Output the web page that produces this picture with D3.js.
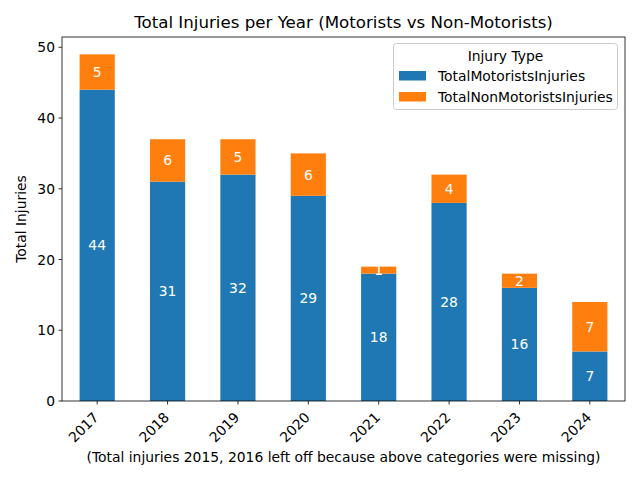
<!DOCTYPE html>
<html><head><meta charset="utf-8">
<script src="https://cdn.jsdelivr.net/npm/d3@7"></script>
<style>body{margin:0;background:#fff;} text{font-family:"DejaVu Sans",sans-serif;}</style>
</head><body>
<svg id="c" width="640" height="480"></svg>
<script>
const years = ["2017","2018","2019","2020","2021","2022","2023","2024"];
const motorists = [44,31,32,29,18,28,16,7];
const nonMotorists = [5,6,5,6,1,4,2,7];
const yTicks = [0,10,20,30,40,50];
const seriesNames = ["TotalMotoristsInjuries","TotalNonMotoristsInjuries"];
const colors = ["#1f77b4","#ff7f0e"];

const FS = "13.89px";
const svg = d3.select("#c");
const L=62, R=625, T=37, B=401;
const totals = years.map((y,i)=>motorists[i]+nonMotorists[i]);
const ymax = d3.max(totals)*1.05;
const x = d3.scaleBand().domain(years).range([L,R]).paddingInner(0.5).paddingOuter(0.25);
const y = d3.scaleLinear().domain([0,ymax]).range([B,T]);

const data = years.map((yr,i)=>({year:yr, TotalMotoristsInjuries:motorists[i], TotalNonMotoristsInjuries:nonMotorists[i]}));
const stacked = d3.stack().keys(seriesNames)(data);

stacked.forEach((s,si)=>{
  const g = svg.append("g");
  g.selectAll("rect").data(s).enter().append("rect")
    .attr("x",d=>x(d.data.year)).attr("width",x.bandwidth())
    .attr("y",d=>y(d[1])).attr("height",d=>y(d[0])-y(d[1]))
    .attr("fill",colors[si]);
  g.selectAll("text").data(s).enter().append("text")
    .attr("x",d=>x(d.data.year)+x.bandwidth()/2)
    .attr("y",d=>(y(d[0])+y(d[1]))/2)
    .attr("dy","0.36em").attr("text-anchor","middle")
    .attr("fill","#fff").attr("font-size",FS)
    .text(d=>d[1]-d[0]);
});

// frame
svg.append("rect").attr("x",L).attr("y",T).attr("width",R-L).attr("height",B-T)
  .attr("fill","none").attr("stroke","#000").attr("stroke-width",0.8);

// y axis
const ya = svg.append("g");
yTicks.forEach(t=>{
  ya.append("line").attr("x1",L-3.5).attr("x2",L).attr("y1",y(t)).attr("y2",y(t)).attr("stroke","#000").attr("stroke-width",0.8);
  ya.append("text").attr("x",L-7).attr("y",y(t)).attr("dy","0.36em").attr("text-anchor","end").attr("font-size",FS).text(t);
});
// x axis
years.forEach(yr=>{
  const cx = x(yr)+x.bandwidth()/2;
  svg.append("line").attr("x1",cx).attr("x2",cx).attr("y1",B).attr("y2",B+3.5).attr("stroke","#000").attr("stroke-width",0.8);
  svg.append("text").attr("transform",`translate(${cx-5},${B+10}) rotate(-45)`)
    .attr("text-anchor","end").attr("dy","0.75em").attr("font-size",FS).text(yr);
});

svg.append("text").attr("x",(L+R)/2).attr("y",22).attr("dy","0.36em").attr("text-anchor","middle").attr("font-size","16.67px")
  .text("Total Injuries per Year (Motorists vs Non-Motorists)");
svg.append("text").attr("transform",`translate(21,${(T+B)/2}) rotate(-90)`).attr("dy","0.36em").attr("text-anchor","middle").attr("font-size",FS)
  .text("Total Injuries");
svg.append("text").attr("x",(L+R)/2).attr("y",457).attr("dy","0.36em").attr("text-anchor","middle").attr("font-size",FS)
  .text("(Total injuries 2015, 2016 left off because above categories were missing)");

// legend
const lg = svg.append("g");
lg.append("rect").attr("x",393.5).attr("y",43.5).attr("width",224).attr("height",66).attr("rx",3)
  .attr("fill","#fff").attr("fill-opacity",0.8).attr("stroke","#cccccc");
lg.append("text").attr("x",505.5).attr("y",56).attr("dy","0.36em").attr("text-anchor","middle").attr("font-size",FS).text("Injury Type");
seriesNames.forEach((n,i)=>{
  const yy = 76+i*21;
  lg.append("rect").attr("x",399).attr("y",yy-5).attr("width",27).attr("height",9.5).attr("fill",colors[i]);
  lg.append("text").attr("x",438).attr("y",yy).attr("dy","0.36em").attr("font-size",FS).text(n);
});
</script>
</body></html>
